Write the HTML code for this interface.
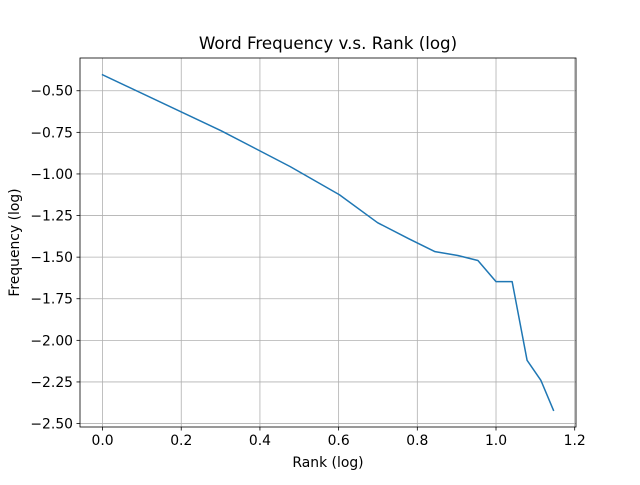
<!DOCTYPE html>
<html><head><meta charset="utf-8"><style>
body{margin:0;background:#fff;}
svg{font-family:"DejaVu Sans","Liberation Sans",sans-serif;}
</style></head><body>
<svg id="chart" width="640" height="480"></svg>
<script>
const rankLog=[0,0.301,0.477,0.602,0.699,0.778,0.845,0.903,0.954,1.0,1.041,1.079,1.114,1.146];
const freqLog=[-0.404,-0.74,-0.956,-1.125,-1.293,-1.389,-1.467,-1.49,-1.52,-1.647,-1.647,-2.12,-2.24,-2.42];
const xTicks=[0.0,0.2,0.4,0.6,0.8,1.0,1.2];
const xTickLabels=["0.0","0.2","0.4","0.6","0.8","1.0","1.2"];
const yTicks=[-0.5,-0.75,-1.0,-1.25,-1.5,-1.75,-2.0,-2.25,-2.5];
const yTickLabels=["−0.50","−0.75","−1.00","−1.25","−1.50","−1.75","−2.00","−2.25","−2.50"];

const L=80,R=576,T=58,B=427;
const xmin=-0.0573,xmax=1.2033,ymin=-2.5208,ymax=-0.3032;
const sx=v=>L+(v-xmin)/(xmax-xmin)*(R-L);
const sy=v=>B-(v-ymin)/(ymax-ymin)*(B-T);
const svg=document.getElementById('chart');
const NS="http://www.w3.org/2000/svg";
function mk(tag,attrs,parent){const e=document.createElementNS(NS,tag);for(const k in attrs)e.setAttribute(k,attrs[k]);(parent||svg).appendChild(e);return e;}

xTicks.forEach((t,i)=>{
  const x=sx(t);
  const g=mk('line',{x1:x,x2:x,y1:T,y2:B,stroke:'#b0b0b0','stroke-width':0.8});
  
  
  mk('line',{x1:x,x2:x,y1:B,y2:B+3.5,stroke:'#000','stroke-width':0.8});
  const tx=mk('text',{x:x,y:B+18,'font-size':13.9,'text-anchor':'middle'});
  tx.textContent=xTickLabels[i];
  
  
});
yTicks.forEach((t,i)=>{
  const y=sy(t);
  const g=mk('line',{x1:L,x2:R,y1:y,y2:y,stroke:'#b0b0b0','stroke-width':0.8});
  
  
  mk('line',{x1:L-3.5,x2:L,y1:y,y2:y,stroke:'#000','stroke-width':0.8});
  const tx=mk('text',{x:L-7,y:y+5,'font-size':13.9,'text-anchor':'end'});
  tx.textContent=yTickLabels[i];
  
  
});
const pts=rankLog.map((r,i)=>sx(r).toFixed(2)+','+sy(freqLog[i]).toFixed(2)).join(' ');
const line=mk('polyline',{points:pts,fill:'none',stroke:'#1f77b4','stroke-width':1.5,'stroke-linejoin':'round','stroke-linecap':'square'});


const frame=mk('rect',{x:L,y:T,width:R-L,height:B-T,fill:'none',stroke:'#000','stroke-width':0.8});


const title=mk('text',{x:(L+R)/2,y:T-9,'font-size':16.7,'text-anchor':'middle'});
title.textContent='Word Frequency v.s. Rank (log)';


const xl=mk('text',{x:(L+R)/2,y:467,'font-size':13.9,'text-anchor':'middle'});
xl.textContent='Rank (log)';


const yl=mk('text',{x:0,y:0,'font-size':13.9,'text-anchor':'middle',transform:'translate(19,'+((T+B)/2)+') rotate(-90)'});
yl.textContent='Frequency (log)';


</script>
</body></html>
